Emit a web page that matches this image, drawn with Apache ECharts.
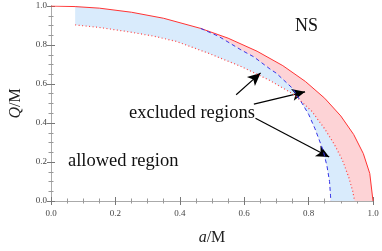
<!DOCTYPE html>
<html>
<head>
<meta charset="utf-8">
<script src="https://cdn.jsdelivr.net/npm/echarts@6/dist/echarts.min.js"></script>
<style>html,body{margin:0;padding:0;background:#fff;}#c{width:382px;height:251px;}</style>
</head>
<body>
<div id="c"></div>
<script>
// Red solid boundary (extremal)
var extremalA = [0, 0.075, 0.15, 0.25, 0.35, 0.465, 0.55, 0.64, 0.72, 0.79, 0.85, 0.9, 0.94, 0.97, 0.99, 1.0];
var extremalQ = [1, 0.997, 0.989, 0.968, 0.937, 0.885, 0.835, 0.768, 0.694, 0.613, 0.527, 0.436, 0.341, 0.243, 0.141, 0];
// Red dotted boundary
var dottedA = [0.075, 0.15, 0.24, 0.32, 0.39, 0.49, 0.59, 0.68, 0.755, 0.81, 0.85, 0.88, 0.905, 0.925, 0.937, 0.943];
var dottedQ = [0.903, 0.89, 0.868, 0.845, 0.818, 0.757, 0.69, 0.618, 0.545, 0.46, 0.37, 0.29, 0.21, 0.12, 0.05, 0];
// Blue dashed boundary
var dashedA = [0.465, 0.52, 0.59, 0.63, 0.68, 0.70, 0.75, 0.78, 0.80, 0.82, 0.845, 0.857, 0.865, 0.868, 0.869];
var dashedQ = [0.885, 0.845, 0.775, 0.739, 0.677, 0.655, 0.578, 0.50, 0.445, 0.37, 0.26, 0.18, 0.10, 0.03, 0];
// Tick labels
var tickLabels = ['0.0', '0.2', '0.4', '0.6', '0.8', '1.0'];
// Annotation arrows [startA, startQ, tipA, tipQ]
var arrow1 = [0.575, 0.545, 0.651, 0.657];
var arrow2 = [0.63, 0.497, 0.789, 0.56];
var arrow3 = [0.635, 0.424, 0.864, 0.226];

function pairs(xs, ys) { return xs.map(function (x, i) { return [x, ys[i]]; }); }
var extremal = pairs(extremalA, extremalQ);
var dotted = pairs(dottedA, dottedQ);
var dashed = pairs(dashedA, dashedQ);
var aSplit = dashedA[0];

var bluePoly = extremal.filter(function (p) { return p[0] >= dottedA[0] && p[0] < aSplit; })
  .concat(dashed)
  .concat(dotted.slice().reverse());
var redPoly = extremal.filter(function (p) { return p[0] > aSplit; })
  .concat(dashed.slice().reverse());

var chart = echarts.init(document.getElementById('c'), null, {renderer: 'canvas'});
var serif = 'Liberation Serif, Times New Roman, serif';

function polySeries(poly, color, z) {
  return {
    type: 'custom', z: z, silent: true,
    data: [[0, 0]],
    renderItem: function (params, api) {
      var pts = poly.map(function (p) { return api.coord(p); });
      return {type: 'polygon', shape: {points: pts}, style: {fill: color, stroke: null}};
    }
  };
}

function axisCommon(show) {
  return {
    type: 'value', min: 0, max: 1, interval: 0.2,
    axisLine: {show: true, lineStyle: {color: show ? '#777' : '#aaa', width: 1}},
    axisTick: {show: true, inside: true, length: 4, lineStyle: {color: '#777'}},
    minorTick: {show: true, splitNumber: 4, length: 2.5, lineStyle: {color: '#999'}},
    splitLine: {show: false},
    axisLabel: {show: show, fontFamily: serif, fontSize: 9, color: '#444',
      formatter: function (v) { return tickLabels[Math.round(v / 0.2)]; }}
  };
}

var xBottom = axisCommon(true);
xBottom.position = 'bottom';
xBottom.name = '{i|a}{n|/M}';
xBottom.nameLocation = 'middle';
xBottom.nameGap = 29;
xBottom.nameTextStyle = {rich: {i: {fontFamily: serif, fontStyle: 'italic', fontSize: 16, color: '#222'},
  n: {fontFamily: serif, fontSize: 16, color: '#222'}}};
xBottom.axisLabel.margin = 8;
var xTop = axisCommon(false); xTop.position = 'top';
var yLeft = axisCommon(true);
yLeft.position = 'left';
yLeft.name = '{i|Q}{n|/M}';
yLeft.nameLocation = 'middle';
yLeft.nameGap = 27;
yLeft.nameTextStyle = {rich: {i: {fontFamily: serif, fontStyle: 'italic', fontSize: 16, color: '#222'},
  n: {fontFamily: serif, fontSize: 16, color: '#222'}}};
yLeft.axisLabel.margin = 4;
var yRight = axisCommon(false); yRight.position = 'right';

function arrowLine(a) {
  return [{coord: [a[0], a[1]], symbol: 'none'}, {coord: [a[2], a[3]], symbol: 'arrow'}];
}

chart.setOption({
  animation: false,
  grid: {left: 40, right: 9, top: 6, bottom: 38},
  xAxis: [xBottom, xTop],
  yAxis: [yLeft, yRight],
  series: [
    polySeries(redPoly, '#fdd3d6', 1),
    polySeries(bluePoly, '#d9ebfc', 2),
    {type: 'line', data: extremal, z: 5, showSymbol: false, symbol: 'none',
      lineStyle: {color: '#ff3333', width: 1}},
    {type: 'line', data: dotted, z: 5, showSymbol: false, symbol: 'none',
      lineStyle: {color: '#ff4444', width: 1.2, type: [1, 2.5]}},
    {type: 'line', data: dashed, z: 6, showSymbol: false, symbol: 'none',
      lineStyle: {color: '#3535e8', width: 1, type: [4, 3]},
      markLine: {silent: true, symbolSize: [9, 13], animation: false,
        lineStyle: {color: '#000', width: 1.2, type: 'solid'}, label: {show: false},
        data: [arrowLine(arrow1), arrowLine(arrow2), arrowLine(arrow3)]}}
  ],
  graphic: [
    {type: 'text', left: 295, top: 17, style: {text: 'NS', font: '18px ' + serif, fill: '#111'}},
    {type: 'text', left: 129, top: 104, style: {text: 'excluded regions', font: '18.5px ' + serif, fill: '#111'}},
    {type: 'text', left: 68, top: 152, style: {text: 'allowed region', font: '18.5px ' + serif, fill: '#111'}}
  ]
});
</script>
</body>
</html>
